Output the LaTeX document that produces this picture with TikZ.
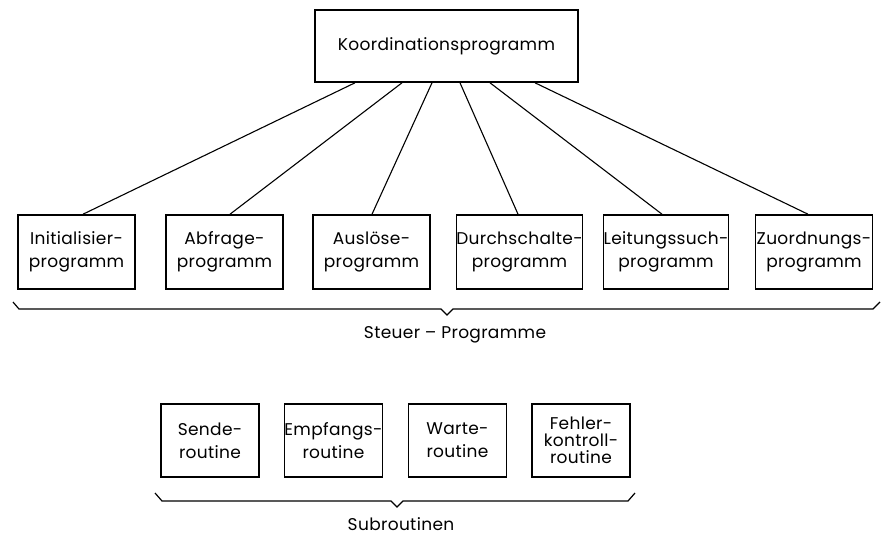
\documentclass[tikz,border=0pt]{standalone}
\usepackage{fontspec}
\setmainfont{Poppins}[LetterSpace=2]
\begin{document}
\begin{tikzpicture}[x=1pt,y=-1pt,
  every node/.style={font=\fontsize{17}{23}\selectfont},
  prog/.style={draw,line width=1.6pt,minimum width=117pt,minimum height=74pt,inner sep=0pt,align=center},
  sub/.style={draw,line width=1.6pt,minimum width=98pt,minimum height=73pt,inner sep=0pt,align=center},
  link/.style={line width=1.1pt},
  brace/.style={line width=1.2pt,line join=miter}]
\useasboundingbox (0,0) rectangle (886,536);
\node[draw,line width=1.6pt,minimum width=263pt,minimum height=72pt,inner sep=0pt] (K) at (446.5,46) {Koordinationsprogramm};
\node[prog] (b1) at (76.5,252) {Initialisier-\\programm};
\node[prog] (b2) at (224.5,252) {Abfrage-\\programm};
\node[prog] (b3) at (371.5,252) {Auslöse-\\programm};
\node[prog] (b4) at (519.5,252) {Durchschalte-\\programm};
\node[prog] (b5) at (666,252) {Leitungssuch-\\programm};
\node[prog] (b6) at (814,252) {Zuordnungs-\\programm};
\draw[link] ([xshift=-91.5pt]K.south) -- ([xshift=6.5pt]b1.north);
\draw[link] ([xshift=-44.5pt]K.south) -- ([xshift=5.5pt]b2.north);
\draw[link] ([xshift=-14.5pt]K.south) -- ([xshift=0.5pt]b3.north);
\draw[link] ([xshift=13.5pt]K.south) -- ([xshift=-1.5pt]b4.north);
\draw[link] ([xshift=43.5pt]K.south) -- ([xshift=-4pt]b5.north);
\draw[link] ([xshift=88.5pt]K.south) -- ([xshift=-6pt]b6.north);
\draw[brace] (13,302) -- (19,309) -- (441,309) -- (447,315) -- (453,309) -- (873,309) -- (880,302);
\node (L1) at (455,335) {Steuer – Programme};
\node[sub] (s1) at (210,440.5) {Sende-\\routine};
\node[sub] (s2) at (333.5,440.5) {Empfangs-\\routine};
\node[sub] (s3) at (457.5,440.5) {Warte-\\routine};
\node[sub,font=\fontsize{17}{17}\selectfont] (s4) at (581,440.5) {Fehler-\\kontroll-\\routine};
\draw[brace] (155,493) -- (162,501) -- (391,501) -- (397,507) -- (403,501) -- (628,501) -- (635,493);
\node (L2) at (401,524) {Subroutinen};
\end{tikzpicture}
\end{document}
